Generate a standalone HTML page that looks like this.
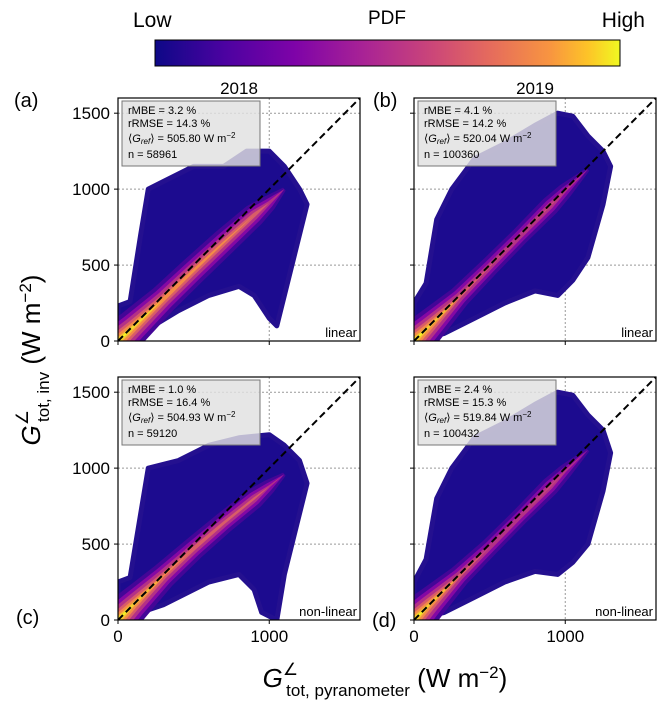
<!DOCTYPE html>
<html><head><meta charset="utf-8"><style>
body{margin:0;background:#fff;width:666px;height:704px;overflow:hidden}
svg{font-family:"Liberation Sans","DejaVu Sans",sans-serif}
</style></head><body>
<svg id="fig" width="666" height="704" xmlns="http://www.w3.org/2000/svg">
<defs>
<linearGradient id="plasma" x1="0" x2="1" y1="0" y2="0">
<stop offset="0" stop-color="#0d0887"/><stop offset="0.15" stop-color="#4c02a1"/><stop offset="0.3" stop-color="#7e03a8"/><stop offset="0.45" stop-color="#a92395"/><stop offset="0.6" stop-color="#cc4778"/><stop offset="0.72" stop-color="#e56b5d"/><stop offset="0.85" stop-color="#f89540"/><stop offset="0.93" stop-color="#fdc328"/><stop offset="1" stop-color="#f0f921"/>
</linearGradient>
</defs>
<text x="133" y="27" font-size="21">Low</text>
<text x="387" y="24" font-size="19" text-anchor="middle">PDF</text>
<text x="645" y="27" font-size="21" text-anchor="end">High</text>
<rect x="155" y="40" width="465" height="26" fill="url(#plasma)" stroke="#000" stroke-width="1"/>
<text x="239" y="94" font-size="17" text-anchor="middle">2018</text>
<text x="535" y="94" font-size="17" text-anchor="middle">2019</text>
<text x="30" y="370" font-size="26" text-anchor="middle" transform="rotate(-90 30 360)"><tspan font-style="italic">G</tspan><tspan font-size="17" dy="-12">∠</tspan><tspan font-size="17" dx="-12" dy="21">tot, inv</tspan><tspan dy="-9"> (W m</tspan><tspan font-size="17" dy="-9">−2</tspan><tspan dy="9">)</tspan></text>
<text x="385" y="687" font-size="26" text-anchor="middle"><tspan font-style="italic">G</tspan><tspan font-size="17" dy="-12">∠</tspan><tspan font-size="17" dx="-12" dy="21">tot, pyranometer</tspan><tspan dy="-9"> (W m</tspan><tspan font-size="17" dy="-9">−2</tspan><tspan dy="9">)</tspan></text>
<g id="panels"></g>
</svg>
<script>
const panelNames=['a','b','c','d'];
const statMBE=['3.2','4.1','1.0','2.4'];
const statRMSE=['14.3','14.2','16.4','15.3'];
const statGref=['505.80','520.04','504.93','519.84'];
const statN=['58961','100360','59120','100432'];
const modelLabels=['linear','linear','non-linear','non-linear'];
const xTicks=[0,1000];
const yTicks=[0,500,1000,1500];
const gridTicks=[500,1000,1500];
// cloud envelopes (data units W m-2)
const upA=[[0,230],[80,260],[150,700],[200,1000],[300,1050],[500,1150],[700,1150],[850,1250],[1000,1250],[1100,1150],[1200,1000],[1250,900]];
const loA=[[0,0],[200,80],[400,200],[600,300],[800,360],[900,300],[1000,150],[1050,100],[1100,300],[1200,700],[1250,900]];
const upB=[[0,250],[80,380],[150,800],[250,1000],[400,1200],[600,1300],[800,1420],[950,1500],[1050,1480],[1150,1350],[1250,1250],[1300,1150]];
const loB=[[0,0],[200,50],[400,150],[600,250],[800,330],[950,300],[1050,400],[1150,550],[1250,900],[1300,1150]];
const upC=[[0,250],[80,280],[150,700],[200,1000],[400,1050],[600,1150],[800,1200],[1000,1220],[1100,1150],[1200,1050],[1250,900]];
const loC=[[0,0],[300,100],[600,250],[800,300],[900,200],[950,50],[1050,0],[1100,300],[1200,700],[1250,900]];
const upD=[[0,250],[80,400],[150,800],[250,1000],[400,1200],[600,1300],[800,1420],[950,1500],[1050,1480],[1150,1350],[1250,1250],[1300,1100]];
const loD=[[0,0],[200,50],[400,150],[600,250],[800,320],[950,300],[1050,380],[1150,500],[1250,850],[1300,1100]];
// density ridge
const bandXA=[0,100,300,500,700,900,1000,1100];const bandYA=[0,90,275,465,650,830,910,1000];const bandDA=[1,0.9,0.74,0.7,0.66,0.58,0.4,0.1];
const bandXB=[0,100,300,500,700,900,1000,1150];const bandYB=[0,95,290,490,690,890,990,1130];const bandDB=[1,0.85,0.55,0.48,0.45,0.48,0.38,0.1];
const bandXC=[0,100,300,500,700,900,1000,1100];const bandYC=[0,100,290,470,640,800,880,960];const bandDC=[1,0.88,0.66,0.58,0.54,0.52,0.36,0.1];
const bandXD=[0,100,300,500,700,900,1000,1150];const bandYD=[0,100,290,480,680,880,980,1120];const bandDD=[1,0.85,0.55,0.45,0.43,0.47,0.36,0.1];

const clouds=[[upA,loA],[upB,loB],[upC,loC],[upD,loD]];
const bands=[[bandXA,bandYA,bandDA],[bandXB,bandYB,bandDB],[bandXC,bandYC,bandDC],[bandXD,bandYD,bandDD]];
const origins=[[118,98],[414,98],[118,377],[414,377]];
const W=242,H=243,MAX=1600;
const NS='http://www.w3.org/2000/svg';
function plasma(t){const s=[[0,[13,8,135]],[0.25,[126,3,168]],[0.5,[204,71,120]],[0.75,[248,149,64]],[1,[240,249,33]]];
for(let i=1;i<s.length;i++){if(t<=s[i][0]){const a=s[i-1],b=s[i],f=(t-a[0])/(b[0]-a[0]);return 'rgb('+a[1].map((v,k)=>Math.round(v+(b[1][k]-v)*f)).join(',')+')';}}return 'rgb(240,249,33)';}
function mk(tag,attrs,parent){const e=document.createElementNS(NS,tag);for(const k in attrs)e.setAttribute(k,attrs[k]);parent.appendChild(e);return e;}
const root=document.getElementById('panels');
const labPos=[[14,107],[373,107],[16,624],[372,627]];
for(let p=0;p<4;p++){
 const [ox,oy]=origins[p];
 const sx=v=>ox+v/MAX*W, sy=v=>oy+H-v/MAX*H;
 const g=mk('g',{},root);
 
 
 const clip=mk('clipPath',{id:'clip'+p},g);mk('rect',{x:ox,y:oy,width:W,height:H},clip);
 const inner=mk('g',{'clip-path':'url(#clip'+p+')'},g);
 for(const t of gridTicks){const l=mk('line',{x1:ox,x2:ox+W,y1:sy(t),y2:sy(t),stroke:'#999','stroke-dasharray':'2,2','stroke-width':1},inner);
  
  }
 const gx=mk('line',{x1:sx(1000),x2:sx(1000),y1:oy,y2:oy+H,stroke:'#999','stroke-dasharray':'2,2','stroke-width':1},inner);
 
 
 const [up,lo]=clouds[p];
 const pts=up.map(q=>sx(q[0])+','+sy(q[1])).concat(lo.slice().reverse().map(q=>sx(q[0])+','+sy(q[1])));
 const cl=mk('polygon',{points:pts.join(' '),fill:'#1c0b8f',stroke:'#24108f','stroke-width':5,'stroke-linejoin':'round'},inner);
 
 
 const [bx,by,bd]=bands[p];
 const layers=[0,0.15,0.3,0.45,0.6,0.75,0.88];
 const K=[52,42,34,26,20,14,10];
 layers.forEach((L,li)=>{
  const left=[],right=[];
  for(let i=0;i<bx.length;i++){
   const w=Math.max(0,bd[i]-L)*K[li]/(1-L+0.3);
   const j0=Math.max(0,i-1),j1=Math.min(bx.length-1,i+1);
   let dx=sx(bx[j1])-sx(bx[j0]),dy=sy(by[j1])-sy(by[j0]);const n=Math.hypot(dx,dy);dx/=n;dy/=n;
   const nx=-dy,ny=dx;
   left.push((sx(bx[i])+nx*w/2)+','+(sy(by[i])+ny*w/2));
   right.push((sx(bx[i])-nx*w/2)+','+(sy(by[i])-ny*w/2));
  }
  const poly=mk('polygon',{points:left.concat(right.reverse()).join(' '),fill:plasma(Math.min(1,L+0.12)),stroke:'none'},inner);
  
  
 });
 const dg=mk('line',{x1:sx(0),y1:sy(0),x2:sx(MAX),y2:sy(MAX),stroke:'#000','stroke-width':2,'stroke-dasharray':'7,4'},inner);
 
 
 const bxX=ox+4,bxY=oy+3;
 const box=mk('rect',{x:bxX,y:bxY,width:138,height:65,fill:'rgba(225,225,225,0.82)',stroke:'#777','stroke-width':1},g);
 
 
 const lines=['rMBE = '+statMBE[p]+' %','rRMSE = '+statRMSE[p]+' %',null,'n = '+statN[p]];
 const ly=[bxY+13,bxY+26,bxY+41,bxY+57];
 for(let i=0;i<4;i++){
  let t;
  if(lines[i]){t=mk('text',{x:bxX+6,y:ly[i],'font-size':11},g);t.textContent=lines[i];}
  else{t=mk('text',{x:bxX+6,y:ly[i],'font-size':11},g);
   t.innerHTML='⟨<tspan font-style="italic">G</tspan><tspan font-size="8" dy="2" font-style="italic">ref</tspan><tspan dy="-2">⟩ = '+statGref[p]+' W m</tspan><tspan font-size="8" dy="-4">−2</tspan>';}
  
  
 }
 const ml=mk('text',{x:ox+W-3,y:oy+H-4,'font-size':13,'text-anchor':'end'},g);ml.textContent=modelLabels[p];
 
 
 const fr=mk('rect',{x:ox,y:oy,width:W,height:H,fill:'none',stroke:'#000','stroke-width':1.2},g);
 
 
 for(const t of yTicks){mk('line',{x1:ox-4,x2:ox,y1:sy(t),y2:sy(t),stroke:'#000'},g);
  if(p%2===0){const tl=mk('text',{x:ox-8,y:sy(t)+6,'font-size':17,'text-anchor':'end'},g);tl.textContent=t;
   
   }}
 for(const t of xTicks){mk('line',{x1:sx(t),x2:sx(t),y1:oy+H,y2:oy+H+4,stroke:'#000'},g);
  if(p>=2){const tl=mk('text',{x:sx(t),y:oy+H+22,'font-size':17,'text-anchor':'middle'},g);tl.textContent=t;
   
   }}
 const pl=mk('text',{x:labPos[p][0],y:labPos[p][1],'font-size':20},g);pl.textContent='('+panelNames[p]+')';
 
 
}
</script>
</body></html>
